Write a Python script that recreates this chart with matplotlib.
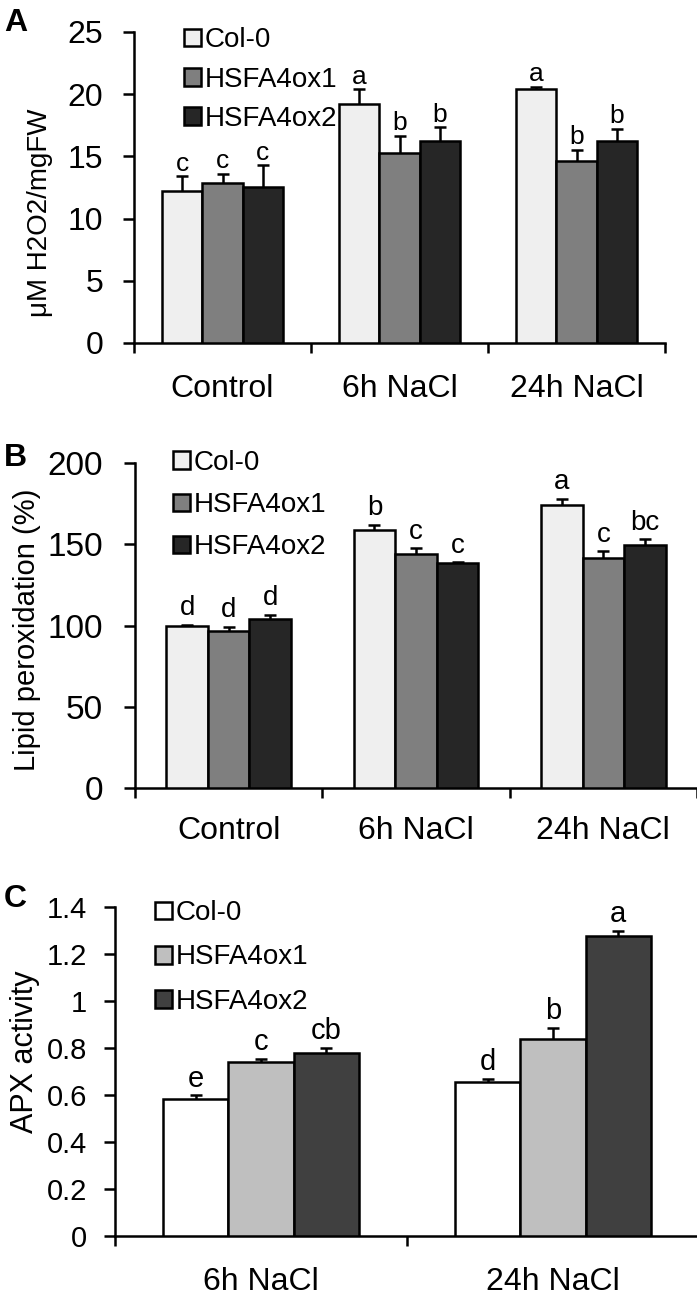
import matplotlib
matplotlib.use("Agg")
import matplotlib.pyplot as plt
from matplotlib.patches import Patch
import numpy as np

plt.rcParams['font.family'] = ['Liberation Sans', 'DejaVu Sans']

# ---------------- data ----------------
genotypes = ["Col-0", "HSFA4ox1", "HSFA4ox2"]
categories_ab = ["Control", "6h NaCl", "24h NaCl"]
categories_c = ["6h NaCl", "24h NaCl"]

# Panel A: H2O2 content
h2o2_col0 = [12.2, 19.2, 20.4]
h2o2_ox1 = [12.9, 15.3, 14.6]
h2o2_ox2 = [12.5, 16.2, 16.2]
h2o2_err_col0 = [1.2, 1.2, 0.2]
h2o2_err_ox1 = [0.7, 1.35, 0.95]
h2o2_err_ox2 = [1.8, 1.15, 1.0]
h2o2_let_col0 = ["c", "a", "a"]
h2o2_let_ox1 = ["c", "b", "b"]
h2o2_let_ox2 = ["c", "b", "b"]

# Panel B: lipid peroxidation
lip_col0 = [100.0, 158.8, 174.4]
lip_ox1 = [96.9, 144.0, 141.8]
lip_ox2 = [104.3, 138.5, 149.4]
lip_err_col0 = [0.4, 3.1, 3.5]
lip_err_ox1 = [2.1, 3.5, 3.9]
lip_err_ox2 = [2.1, 0.4, 3.6]
lip_let_col0 = ["d", "b", "a"]
lip_let_ox1 = ["d", "c", "c"]
lip_let_ox2 = ["d", "c", "bc"]

# Panel C: APX activity
apx_col0 = [0.584, 0.655]
apx_ox1 = [0.741, 0.838]
apx_ox2 = [0.778, 1.275]
apx_err_col0 = [0.014, 0.014]
apx_err_ox1 = [0.014, 0.048]
apx_err_ox2 = [0.024, 0.024]
apx_let_col0 = ["e", "d"]
apx_let_ox1 = ["c", "b"]
apx_let_ox2 = ["cb", "a"]

colors_ab = ["#efefef", "#7f7f7f", "#262626"]
colors_c = ["#ffffff", "#bfbfbf", "#404040"]

W, H = 697, 1295
fig = plt.figure(figsize=(W / 100, H / 100), dpi=100)


def px_axes(l, r, b, t):
    return fig.add_axes([l / W, 1 - b / H, (r - l) / W, (b - t) / H])


def panel(ax, cats, series, errs, lets, colors, width, ylim, yticks, yticklabels,
          ylabel, ylabel_fs, tick_fs, cat_fs, lab_fs, leg_fs, ylabel_xy, let_off,
          legend_anchor, legend_spacing, ytick_pad, cat_pad):
    n = len(cats)
    x = np.arange(n)
    for j, (vals, err, let, col, name) in enumerate(zip(series, errs, lets, colors, genotypes)):
        xs = x + (j - 1) * width
        ax.bar(xs, vals, width=width, color=col, edgecolor="black", linewidth=1.8,
               zorder=3, label=name)
        ax.errorbar(xs, vals, yerr=err, fmt="none", ecolor="black", elinewidth=1.8,
                    capsize=4.3, capthick=1.8, zorder=2)
        for xi, v, e, l in zip(xs, vals, err, let):
            ax.annotate(l, (xi, v + e), xytext=(0, let_off), textcoords="offset points",
                        ha="center", va="baseline", fontsize=lab_fs)
    ax.set_xlim(-0.5, n - 0.5)
    ax.set_ylim(*ylim)
    ax.set_yticks(yticks)
    ax.set_yticklabels(yticklabels, fontsize=tick_fs)
    ax.set_xticks(np.arange(n + 1) - 0.5)
    ax.set_xticklabels([])
    ax.set_xticks(x, minor=True)
    ax.set_xticklabels(cats, minor=True, fontsize=cat_fs)
    ax.tick_params(axis="x", which="minor", length=0, pad=cat_pad)
    ax.tick_params(axis="x", which="major", length=7, width=1.8, direction="out")
    ax.tick_params(axis="y", length=8, width=1.8, direction="out", pad=ytick_pad)
    for s in ["top", "right"]:
        ax.spines[s].set_visible(False)
    for s in ["left", "bottom"]:
        ax.spines[s].set_linewidth(1.8)
    ax.set_ylabel(ylabel, fontsize=ylabel_fs)
    ax.yaxis.label.set_va("center")
    ax.yaxis.set_label_coords(*ylabel_xy)
    handles = [Patch(facecolor=c, edgecolor="black", linewidth=1.8) for c in colors]
    ax.legend(handles, genotypes, loc="upper left", bbox_to_anchor=legend_anchor,
              frameon=False, fontsize=leg_fs, borderpad=0, borderaxespad=0,
              handlelength=0.6, handleheight=0.6, handletextpad=0.15,
              labelspacing=legend_spacing)


# Panel A
axA = px_axes(134, 665, 343, 32)
panel(axA, categories_ab,
      [h2o2_col0, h2o2_ox1, h2o2_ox2],
      [h2o2_err_col0, h2o2_err_ox1, h2o2_err_ox2],
      [h2o2_let_col0, h2o2_let_ox1, h2o2_let_ox2],
      colors_ab, 0.226, (0, 25), [0, 5, 10, 15, 20, 25],
      ["0", "5", "10", "15", "20", "25"],
      "μM H2O2/mgFW", 20, 23, 23, 19, 20, ((40 - 134) / 531, 0.42), 4,
      ((184 - 134) / 531, 1.015), 0.48, 14, 22)

# Panel B
axB = px_axes(135, 697, 788, 463)
panel(axB, categories_ab,
      [lip_col0, lip_ox1, lip_ox2],
      [lip_err_col0, lip_err_ox1, lip_err_ox2],
      [lip_let_col0, lip_let_ox1, lip_let_ox2],
      colors_ab, 0.222, (0, 200), [0, 50, 100, 150, 200],
      ["0", "50", "100", "150", "200"],
      "Lipid peroxidation (%)", 21, 24, 23, 20, 20, ((27 - 135) / 562, 0.486), 7,
      ((173 - 135) / 562, 1.04), 0.58, 15, 20)

# Panel C
axC = px_axes(115, 699, 1236, 907)
panel(axC, categories_c,
      [apx_col0, apx_ox1, apx_ox2],
      [apx_err_col0, apx_err_ox1, apx_err_ox2],
      [apx_let_col0, apx_let_ox1, apx_let_ox2],
      colors_c, 0.223, (0, 1.4), [0, 0.2, 0.4, 0.6, 0.8, 1.0, 1.2, 1.4],
      ["0", "0.2", "0.4", "0.6", "0.8", "1", "1.2", "1.4"],
      "APX activity", 22, 21, 23, 21, 20, ((25 - 115) / 584, 0.56), 6,
      ((155 - 115) / 584, 1.02), 0.65, 12, 22)

for lab, (px, py) in zip(["A", "B", "C"], [(4, 8), (4, 443), (4, 884)]):
    fig.text(px / W, 1 - py / H, lab, fontsize=23, fontweight="bold", ha="left", va="top")

fig.savefig("out.png", dpi=100)
